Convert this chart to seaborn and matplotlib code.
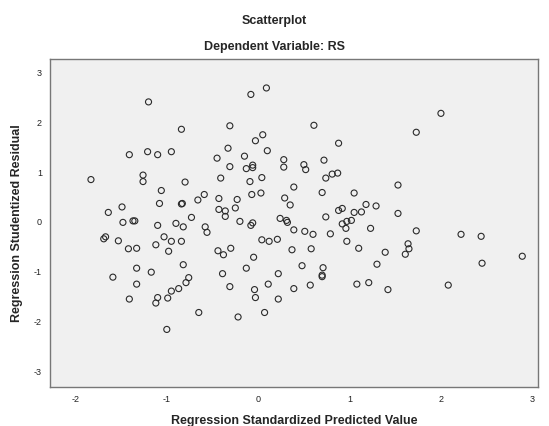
import numpy as np
import pandas as pd
import matplotlib
matplotlib.use("Agg")
import matplotlib.pyplot as plt
import seaborn as sns

# values
pred = [-1.20, -1.41, -1.21, -1.10, -0.95, -1.83, -1.26, -1.26, -1.06, -1.08,
        -1.49, -1.64, -0.08, 0.09, -0.84, -0.31, 0.05, -0.03, -0.33, 0.10,
        -0.45, -0.15, 0.28, 0.28, -0.31, -0.13, -0.06, -0.06, -0.41, 0.04,
        -0.09, -0.80, 0.39, -0.59, -0.66, -0.43, -0.23, -0.07, 0.03, 0.29,
        0.35, -0.84, -0.83, -0.43, -0.36, -0.36, -0.25, -0.73, -0.90, -0.82,
        -0.58, -0.56, -0.20, -0.06, -0.08, 0.24, 0.31, 0.32, 0.39, -1.03,
        -0.95, -0.84, -0.98, -0.44, -0.38, -0.30, 0.04, 0.12, 0.21, 0.37,
        -0.05, -0.82, -0.13, -0.39, 0.22, -0.76, -0.79, -0.87, -0.95, -0.99,
        -0.31, 0.11, -0.04, -0.03, 0.22, 0.39, -0.65, -0.22, 0.07, -1.00,
        -1.48, -1.37, -1.35, -1.10, -1.69, -1.67, -1.53, -1.42, -1.33, -1.12,
        -1.33, -1.17, -1.59, -1.33, -1.41, -1.10, -1.12, 0.61, 1.73, 0.88,
        0.72, 0.50, 0.52, 0.81, 0.87, 0.74, 0.70, 1.05, 1.53, 1.18,
        1.29, 0.88, 0.92, 1.05, 1.13, 1.53, 0.74, 0.92, 0.97, 1.02,
        0.96, 1.23, 1.73, 0.51, 0.60, 0.79, 0.97, 1.10, 0.58, 1.39,
        1.64, 1.65, 1.61, 1.30, 0.48, 0.71, 0.70, 0.70, 0.57, 1.08,
        1.21, 1.42, 2.00, 2.22, 2.44, 2.89, 2.45, 2.08]
resid = [2.41, 1.35, 1.41, 1.35, 1.41, 0.85, 0.94, 0.81, 0.63, 0.37,
         0.30, 0.19, 2.56, 2.69, 1.86, 1.93, 1.75, 1.63, 1.48, 1.43,
         1.28, 1.32, 1.25, 1.10, 1.11, 1.07, 1.14, 1.09, 0.88, 0.89,
         0.81, 0.80, 0.70, 0.55, 0.44, 0.47, 0.45, 0.55, 0.58, 0.48,
         0.34, 0.36, 0.37, 0.25, 0.22, 0.11, 0.28, 0.09, -0.03, -0.10,
         -0.10, -0.21, 0.01, -0.02, -0.07, 0.07, 0.03, -0.01, -0.16, -0.30,
         -0.39, -0.39, -0.59, -0.58, -0.66, -0.53, -0.36, -0.39, -0.35, -0.56,
         -0.71, -0.86, -0.93, -1.04, -1.04, -1.12, -1.22, -1.34, -1.39, -1.53,
         -1.30, -1.25, -1.36, -1.52, -1.55, -1.34, -1.82, -1.91, -1.82, -2.16,
         -0.01, 0.02, 0.02, -0.07, -0.34, -0.30, -0.38, -0.54, -0.53, -0.46,
         -0.93, -1.01, -1.11, -1.25, -1.55, -1.52, -1.63, 1.94, 1.80, 1.58,
         1.24, 1.15, 1.05, 0.96, 0.98, 0.88, 0.59, 0.58, 0.74, 0.35,
         0.32, 0.23, 0.27, 0.19, 0.20, 0.17, 0.10, -0.04, 0.01, 0.03,
         -0.13, -0.13, -0.18, -0.19, -0.25, -0.24, -0.39, -0.53, -0.54, -0.61,
         -0.44, -0.54, -0.65, -0.85, -0.88, -0.92, -1.07, -1.10, -1.27, -1.25,
         -1.22, -1.36, 2.18, -0.25, -0.29, -0.69, -0.83, -1.27]

xticks = [-2, -1, 0, 1, 2, 3]
yticks = [-3, -2, -1, 0, 1, 2, 3]

df = pd.DataFrame({"pred": pred, "resid": resid})

sns.set_style("white")
plt.rcParams['font.family'] = ['Liberation Sans', 'DejaVu Sans']
plt.rcParams['axes.unicode_minus'] = False

fig = plt.figure(figsize=(5.49, 4.26), dpi=100)
ax = fig.add_axes([0.0916, 0.0923, 0.888, 0.769])
ax.set_facecolor("#f0f0f0")

sns.scatterplot(data=df, x="pred", y="resid", ax=ax, marker="o", s=19,
                facecolor="none", edgecolor="#2a2a2a", linewidth=0.8)

ax.set_xlim(-2.275, 3.06)
ax.set_ylim(-3.31, 3.27)
ax.set_xticks(xticks)
ax.set_yticks(yticks)
ax.tick_params(axis="both", direction="out", length=4, width=0.8,
               color="#555555", labelsize=6.5, pad=2, labelcolor="#222222")

for sp in ax.spines.values():
    sp.set_color("#777777")
    sp.set_linewidth(1.0)

ax.set_xlabel("Regression Standardized Predicted Value", fontsize=9,
              fontweight="bold", labelpad=8)
ax.set_ylabel("Regression Studentized Residual", fontsize=9,
              fontweight="bold", labelpad=8)

fig.text(0.5, 0.950, "Scatterplot", ha="center", va="center",
         fontsize=9, fontweight="bold")
fig.text(0.5, 0.889, "Dependent Variable: RS", ha="center", va="center",
         fontsize=9, fontweight="bold")

fig.savefig("out.png", dpi=100)
